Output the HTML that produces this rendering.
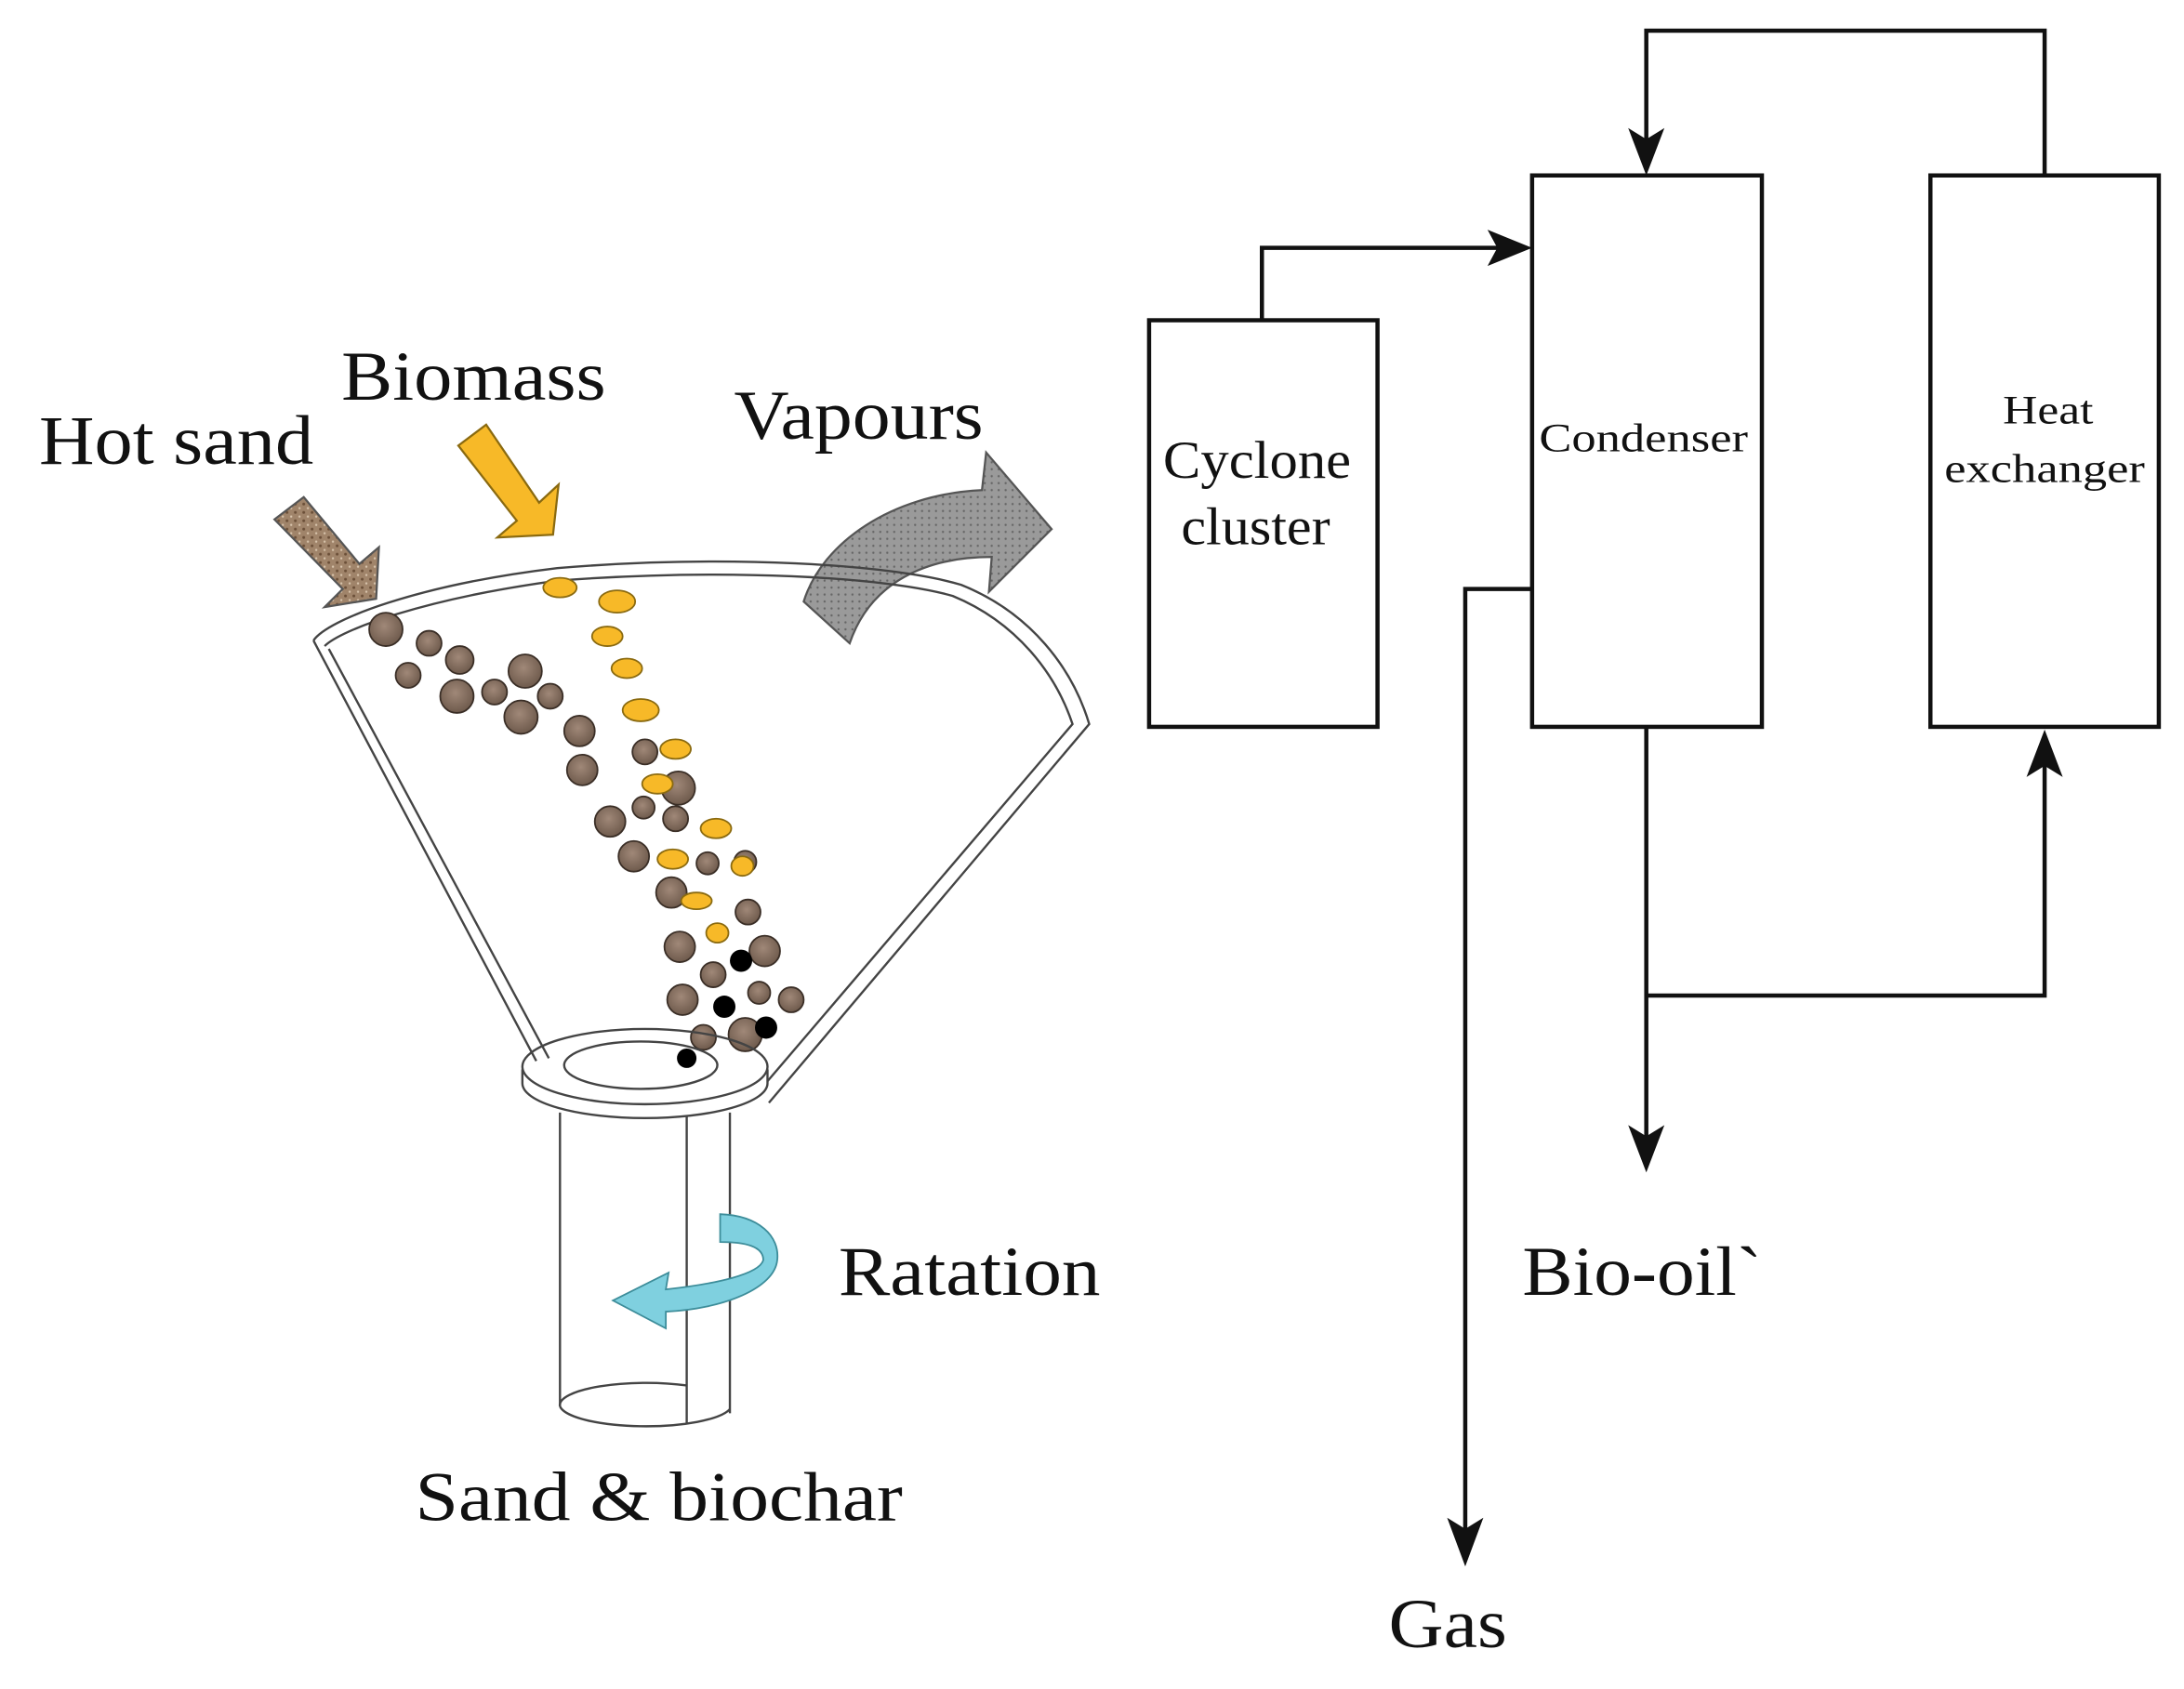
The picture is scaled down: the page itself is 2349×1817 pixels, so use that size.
<!DOCTYPE html>
<html><head><meta charset="utf-8"><style>
html,body{margin:0;padding:0;background:#fff;}
svg{display:block;}
text{font-family:"Liberation Serif",serif;fill:#111;}
</style></head><body>
<svg width="2349" height="1817" viewBox="0 0 1568 1213" xmlns="http://www.w3.org/2000/svg">
<defs>
<pattern id="dots" width="5" height="5" patternUnits="userSpaceOnUse"><rect width="5" height="5" fill="#9a9a9a"/><circle cx="2" cy="2" r="0.8" fill="#666"/></pattern>
<pattern id="sand" width="6" height="6" patternUnits="userSpaceOnUse"><rect width="6" height="6" fill="#a0846a"/><circle cx="2" cy="2" r="1" fill="#6b4f38"/><circle cx="5" cy="5" r="0.8" fill="#d8c4ac"/></pattern>
<radialGradient id="pb" cx="0.45" cy="0.4" r="0.6"><stop offset="0" stop-color="#a08878"/><stop offset="1" stop-color="#6e5a4c"/></radialGradient>
</defs>

<text x="28" y="333" font-size="50" textLength="197" lengthAdjust="spacingAndGlyphs">Hot sand</text>
<text x="245" y="287" font-size="50" textLength="190" lengthAdjust="spacingAndGlyphs">Biomass</text>
<text x="527" y="315" font-size="50" textLength="179" lengthAdjust="spacingAndGlyphs">Vapours</text>
<text x="602" y="930" font-size="50" textLength="188" lengthAdjust="spacingAndGlyphs">Ratation</text>
<text x="298" y="1092" font-size="50" textLength="350" lengthAdjust="spacingAndGlyphs">Sand &amp; biochar</text>

<polygon points="197,373 218,357 258,405 272,393 270,430 233,436 246,423" fill="url(#sand)" stroke="#555" stroke-width="1.5"/>
<polygon points="329,320 349,305 387,361 401,348 397,384 357,386 371,374" fill="#f7b928" stroke="#8a6a10" stroke-width="1.5"/>
<path d="M577,432 C590,390 640,355 705,352 L708,325 L755,380 L710,425 L712,400 C665,400 625,418 610,462 Z" fill="url(#dots)" stroke="#555" stroke-width="1.5"/>

<g fill="none" stroke="#444" stroke-width="1.6">
<path d="M225,460 C235,445 300,420 400,408 C520,398 640,405 690,420 C740,440 770,480 782,520 L552,792"/>
<path d="M233,464 C245,452 305,430 400,417 C520,408 635,414 684,428 C730,447 758,484 770,520 L548,780"/>
<path d="M225,460 L385,762"/>
<path d="M236,466 L394,760"/>
</g>

<g fill="url(#pb)" stroke="#3a2e26" stroke-width="1.2">
<circle cx="277" cy="452" r="12"/><circle cx="308" cy="462" r="9"/><circle cx="330" cy="474" r="10"/><circle cx="293" cy="485" r="9"/>
<circle cx="377" cy="482" r="12"/><circle cx="328" cy="500" r="12"/><circle cx="355" cy="497" r="9"/><circle cx="374" cy="515" r="12"/>
<circle cx="395" cy="500" r="9"/><circle cx="416" cy="525" r="11"/><circle cx="418" cy="553" r="11"/><circle cx="463" cy="540" r="9"/>
<circle cx="487" cy="566" r="12"/><circle cx="438" cy="590" r="11"/><circle cx="462" cy="580" r="8"/><circle cx="485" cy="588" r="9"/>
<circle cx="455" cy="615" r="11"/><circle cx="508" cy="620" r="8"/><circle cx="482" cy="641" r="11"/><circle cx="535" cy="619" r="8"/>
<circle cx="537" cy="655" r="9"/><circle cx="488" cy="680" r="11"/><circle cx="512" cy="700" r="9"/><circle cx="549" cy="683" r="11"/>
<circle cx="490" cy="718" r="11"/><circle cx="545" cy="713" r="8"/><circle cx="568" cy="718" r="9"/><circle cx="505" cy="745" r="9"/><circle cx="535" cy="743" r="12"/>
</g>
<g fill="#f7b928" stroke="#8a6a10" stroke-width="1.2">
<ellipse cx="402" cy="422" rx="12" ry="7"/><ellipse cx="443" cy="432" rx="13" ry="8"/><ellipse cx="436" cy="457" rx="11" ry="7"/>
<ellipse cx="450" cy="480" rx="11" ry="7"/><ellipse cx="460" cy="510" rx="13" ry="8"/><ellipse cx="485" cy="538" rx="11" ry="7"/>
<ellipse cx="472" cy="563" rx="11" ry="7"/><ellipse cx="514" cy="595" rx="11" ry="7"/><ellipse cx="483" cy="617" rx="11" ry="7"/>
<ellipse cx="533" cy="622" rx="8" ry="7"/><ellipse cx="500" cy="647" rx="11" ry="6"/><ellipse cx="515" cy="670" rx="8" ry="7"/>
</g>
<g fill="#000">
<circle cx="532" cy="690" r="8"/><circle cx="520" cy="723" r="8"/><circle cx="550" cy="738" r="8"/><circle cx="493" cy="760" r="7"/>
</g>

<g fill="none" stroke="#444" stroke-width="1.6">
<path d="M375,768 L375,778 A88,25 0 0 0 551,778 L551,768" fill="#fff"/>
<ellipse cx="463" cy="766" rx="88" ry="27" fill="none"/>
<ellipse cx="460" cy="765" rx="55" ry="17"/>
<line x1="402" y1="799" x2="402" y2="1010"/>
<line x1="524" y1="799" x2="524" y2="1015"/>
<line x1="493" y1="802" x2="493" y2="1022"/>
<path d="M402,1010 A62,16 0 0 0 524,1012"/>
<path d="M402,1010 A62,16 0 0 1 493,995"/>
</g>
<path d="M517,872 C545,873 560,888 558,905 C556,925 520,940 478,942 L478,954 L440,934 L480,914 L478,926 C515,922 545,915 548,905 C548,895 535,892 517,892 Z" fill="#7fd0df" stroke="#3d8d9a" stroke-width="1.2"/>

<g fill="none" stroke="#111" stroke-width="3">
<rect x="825" y="230" width="164" height="292"/>
<rect x="1100" y="126" width="165" height="396"/>
<rect x="1386" y="126" width="164" height="396"/>
<polyline points="906,230 906,178 1085,178"/>
<polyline points="1468,126 1468,22 1182,22 1182,108"/>
<polyline points="1100,423 1052,423 1052,1105"/>
<polyline points="1182,522 1182,825"/>
<polyline points="1182,715 1468,715 1468,540"/>
</g>
<g fill="#111">
<polygon points="1100,178 1068,165 1075,178 1068,191"/>
<polygon points="1182,126 1169,92 1182,100 1195,92"/>
<polygon points="1052,1125 1039,1090 1052,1098 1065,1090"/>
<polygon points="1182,842 1169,808 1182,816 1195,808"/>
<polygon points="1468,524 1455,558 1468,550 1481,558"/>
</g>
<text x="835" y="343" font-size="38" textLength="135" lengthAdjust="spacingAndGlyphs">Cyclone</text>
<text x="848" y="391" font-size="38" textLength="107" lengthAdjust="spacingAndGlyphs">cluster</text>
<text x="1105" y="324" font-size="29" textLength="150" lengthAdjust="spacingAndGlyphs">Condenser</text>
<text x="1438" y="304" font-size="29" textLength="65" lengthAdjust="spacingAndGlyphs">Heat</text>
<text x="1396" y="346" font-size="29" textLength="144" lengthAdjust="spacingAndGlyphs">exchanger</text>
<text x="1093" y="930" font-size="50" textLength="172" lengthAdjust="spacingAndGlyphs">Bio-oil`</text>
<text x="997" y="1183" font-size="50" textLength="85" lengthAdjust="spacingAndGlyphs">Gas</text>
</svg>
</body></html>
